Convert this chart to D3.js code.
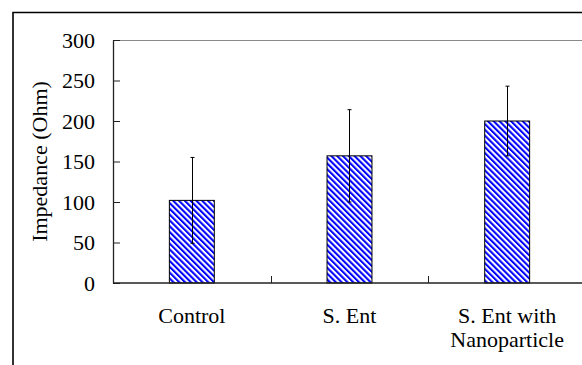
<!DOCTYPE html>
<html>
<head>
<meta charset="utf-8">
<script src="https://cdn.jsdelivr.net/npm/d3@7"></script>
<style>
  html, body { margin: 0; padding: 0; background: #fff; }
  svg { display: block; }
</style>
</head>
<body>
<svg id="chart" width="582" height="365"></svg>
<script>
// Mean impedance per sample group, with standard deviation
const categories = ["Control", "S. Ent", "S. Ent with\nNanoparticle"];
const impedance = [102, 157, 200];
const impedanceSD = [53, 57, 43];
const yTicks = [0, 50, 100, 150, 200, 250, 300];

const serif = "'Liberation Serif', 'Times New Roman', Times, serif";
const fontSize = 22;
const svg = d3.select("#chart");
const plot = { left: 113, right: 586, top: 40, bottom: 283 };

// Outer chart frame (runs past the right and bottom edges)
svg.append("path")
  .attr("d", "M13,400 V12.5 H600")
  .attr("fill", "none")
  .attr("stroke", "#000")
  .attr("stroke-width", 1.6);

// Diagonal blue hatch fill
const period = 4.1;
const defs = svg.append("defs");
const pat = defs.append("pattern")
  .attr("id", "hatch")
  .attr("patternUnits", "userSpaceOnUse")
  .attr("width", period)
  .attr("height", period)
  .attr("patternTransform", "rotate(-45)");
pat.append("rect").attr("width", period).attr("height", period).attr("fill", "#fff");
pat.append("rect").attr("width", period / 2).attr("height", period).attr("fill", "#0000ff");

const x = d3.scaleBand().domain(categories).range([plot.left, plot.right]).padding(0);
const y = d3.scaleLinear().domain([0, 300]).range([plot.bottom, plot.top]);
const barW = x.bandwidth() * 0.285;

// Top border of the plot area
svg.append("line")
  .attr("x1", plot.left).attr("x2", 600)
  .attr("y1", y(300) + 0.5).attr("y2", y(300) + 0.5)
  .attr("stroke", "#8a8a8a").attr("stroke-width", 1);

// Bars
svg.append("g").selectAll("rect")
  .data(categories)
  .join("rect")
  .attr("x", d => x(d) + (x.bandwidth() - barW) / 2)
  .attr("y", (d, i) => y(impedance[i]))
  .attr("width", barW)
  .attr("height", (d, i) => y(0) - y(impedance[i]))
  .attr("fill", "url(#hatch)")
  .attr("stroke", "#000")
  .attr("stroke-width", 1);

// Error bars
const eb = svg.append("g").attr("stroke", "#000").attr("stroke-width", 1);
categories.forEach((c, i) => {
  const cx = Math.round(x(c) + x.bandwidth() / 2) + 0.5;
  const hi = y(impedance[i] + impedanceSD[i]);
  const lo = y(impedance[i] - impedanceSD[i]);
  eb.append("line").attr("x1", cx).attr("x2", cx).attr("y1", hi).attr("y2", lo);
  eb.append("line").attr("x1", cx - 2).attr("x2", cx + 2).attr("y1", hi).attr("y2", hi);
  eb.append("line").attr("x1", cx - 2).attr("x2", cx + 2).attr("y1", lo).attr("y2", lo);
});

// Y axis with inward ticks
const yAxis = svg.append("g")
  .attr("transform", `translate(${plot.left},0)`)
  .call(d3.axisLeft(y).tickValues(yTicks).tickSizeInner(-7).tickSizeOuter(0).tickPadding(18));
yAxis.attr("font-family", null).attr("font-size", null);
yAxis.select(".domain").attr("stroke", "#222").attr("stroke-width", 1.3);
yAxis.selectAll(".tick line").attr("stroke", "#222");
yAxis.selectAll(".tick text")
  .style("font-family", serif)
  .style("font-size", fontSize + "px")
  .attr("fill", "#000")
  .attr("dy", "0.34em");

// X axis: line with inward ticks at category boundaries
const xAxis = svg.append("g")
  .attr("transform", `translate(0,${plot.bottom})`);
xAxis.append("line")
  .attr("x1", plot.left).attr("x2", 600)
  .attr("stroke", "#222").attr("stroke-width", 1.3);
xAxis.selectAll("line.tk")
  .data(categories.slice(1))
  .join("line")
  .attr("class", "tk")
  .attr("x1", d => Math.round(x(d)) + 0.5).attr("x2", d => Math.round(x(d)) + 0.5)
  .attr("y1", 0).attr("y2", -7)
  .attr("stroke", "#222");

// Category labels (multi-line where needed)
const labels = svg.append("g")
  .attr("text-anchor", "middle")
  .attr("fill", "#000");
categories.forEach(c => {
  const t = labels.append("text")
    .style("font-family", serif)
    .style("font-size", fontSize + "px")
    .attr("x", x(c) + x.bandwidth() / 2)
    .attr("y", 323);
  c.split("\n").forEach((line, j) => {
    t.append("tspan")
      .attr("x", x(c) + x.bandwidth() / 2)
      .attr("dy", j === 0 ? 0 : 24)
      .text(line);
  });
});

// Y axis title
svg.append("text")
  .style("font-family", serif)
  .style("font-size", fontSize + "px")
  .attr("transform", `translate(47,${(plot.top + plot.bottom) / 2}) rotate(-90)`)
  .attr("text-anchor", "middle")
  .attr("fill", "#000")
  .text("Impedance (Ohm)");
</script>
</body>
</html>
